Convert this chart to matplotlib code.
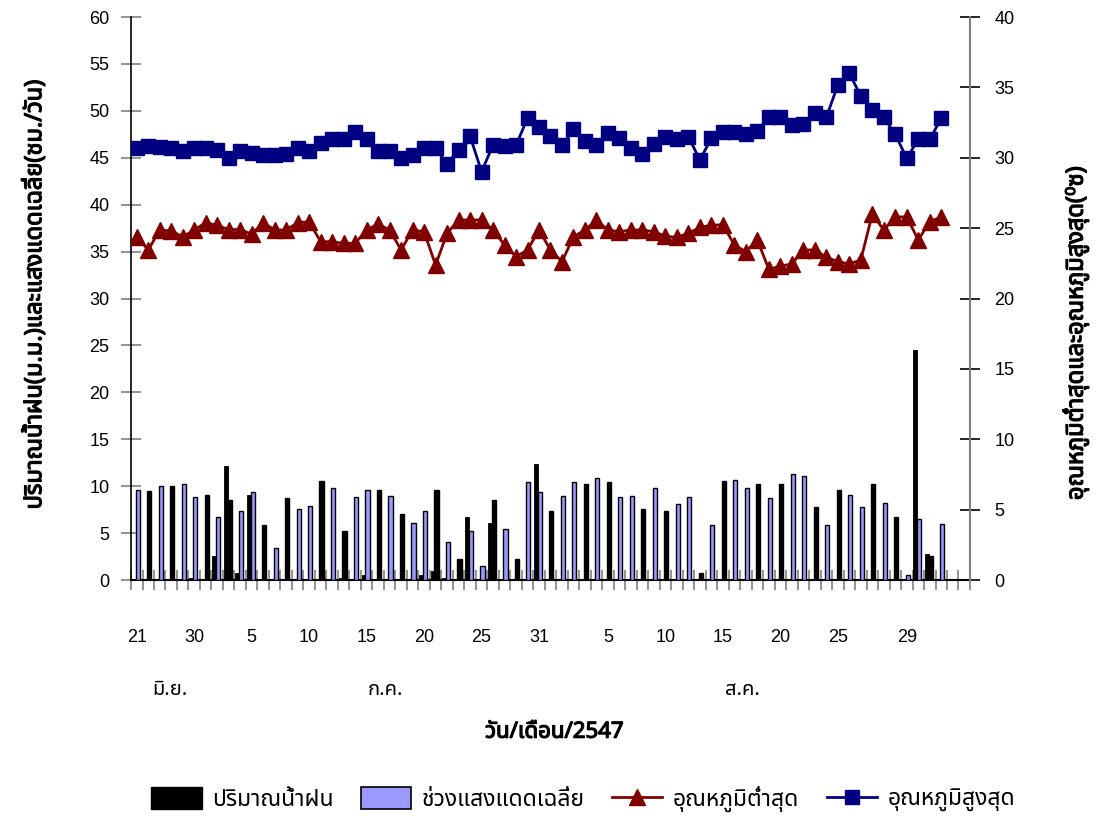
import numpy as np
import matplotlib
matplotlib.use("Agg")
import matplotlib.pyplot as plt
import matplotlib.patheffects as pe
from matplotlib import font_manager
from matplotlib.ft2font import FT2Font
from matplotlib.patches import Patch
from matplotlib.lines import Line2D
from matplotlib.transforms import blended_transform_factory

# ---------------- data ----------------
tick_positions = [0, 5, 10, 15, 20, 25, 30, 35, 41, 46, 51, 56, 61, 67]
tick_labels = ["21", "30", "5", "10", "15", "20", "25", "31",
               "5", "10", "15", "20", "25", "29"]
month_labels = ["มิ.ย.", "ก.ค.", "ส.ค."]
month_positions = [2.9, 21.6, 52.7]
n_categories = 73

rain = [0, 0, 0, 0, 0, 0.2, 0, 2.6, 12.2, 0.8,
        9.1, 0, 0, 0, 0, 0, 0, 0, 0.2, 0,
        0.5, 0, 0, 0, 0, 0.5, 1.0, 0.2, 0, 6.7,
        0, 6.1, 0, 0, 0, 12.4, 0, 0, 0, 0,
        0, 0, 0, 0, 0, 0, 0, 0, 0, 0,
        0, 0, 0, 0, 0, 0, 0, 0, 0, 0,
        0, 0, 0, 0, 0, 0, 0, 0, 24.5, 2.8,
        0]

sunshine = [9.6, 9.5, 10.0, 10.0, 10.2, 8.9, 9.1, 6.7, 8.5, 7.4,
            9.4, 5.9, 3.4, 8.7, 7.6, 7.9, 10.5, 9.8, 5.2, 8.9,
            9.6, 9.6, 9.0, 7.0, 6.1, 7.4, 9.6, 4.0, 2.2, 5.2,
            1.5, 8.5, 5.4, 2.2, 10.4, 9.4, 7.4, 9.0, 10.4, 10.2,
            10.9, 10.4, 8.9, 9.0, 7.6, 9.8, 7.4, 8.1, 8.9, 0.7,
            5.9, 10.6, 10.7, 9.8, 10.2, 8.7, 10.2, 11.3, 11.1, 7.8,
            5.9, 9.6, 9.1, 7.8, 10.2, 8.2, 6.7, 0.5, 6.5, 2.6,
            6.0]

tmax = [30.67, 30.83, 30.78, 30.67, 30.48, 30.67, 30.67, 30.55, 29.96, 30.5,
        30.36, 30.2, 30.2, 30.3, 30.67, 30.5, 31.07, 31.3, 31.3, 31.85,
        31.3, 30.5, 30.5, 29.96, 30.2, 30.67, 30.67, 29.56, 30.55, 31.55,
        29.01, 30.9, 30.83, 30.9, 32.8, 32.16, 31.55, 30.9, 32.02, 31.19,
        30.9, 31.78, 31.38, 30.67, 30.3, 31.0, 31.5, 31.3, 31.5, 29.84,
        31.4, 31.8, 31.85, 31.66, 31.9, 32.87, 32.87, 32.33, 32.4, 33.15,
        32.87, 35.17, 36.0, 34.39, 33.39, 32.87, 31.66, 29.96, 31.31, 31.31,
        32.8]

tmin = [24.39, 23.45, 24.87, 24.8, 24.39, 24.87, 25.39, 25.2, 24.9, 24.9,
        24.58, 25.39, 24.87, 24.87, 25.39, 25.45, 24.04, 24.04, 23.92, 23.92,
        24.87, 25.3, 24.87, 23.45, 24.87, 24.75, 22.38, 24.63, 25.58, 25.58,
        25.58, 24.87, 23.8, 22.97, 23.45, 24.87, 23.45, 22.62, 24.39, 24.87,
        25.55, 24.87, 24.75, 24.87, 24.87, 24.75, 24.42, 24.35, 24.63, 25.06,
        25.2, 25.25, 23.8, 23.33, 24.16, 22.07, 22.3, 22.46, 23.45, 23.45,
        22.93, 22.62, 22.46, 22.74, 26.0, 24.87, 25.8, 25.8, 24.16, 25.46,
        25.8]

# sunshine points whose bar is filled black
dark_sun_points = [1, 3, 6, 8, 11, 13, 16, 18, 21, 23, 26, 28, 31, 33, 36,
                   39, 41, 44, 46, 49, 51, 54, 56, 59, 61, 64, 66, 69]


# ---------------- fonts ----------------
def pick_thai_font():
    preferred = ["Noto Sans Thai", "Noto Sans Thai Looped", "Loma", "Garuda",
                 "Norasi", "Kinnari", "Sarabun", "Tahoma", "FreeSans"]
    available = {f.name for f in font_manager.fontManager.ttflist}
    for name in preferred:
        if name in available:
            return name
    for f in font_manager.fontManager.ttflist:
        try:
            cmap = FT2Font(f.fname).get_charmap()
        except Exception:
            continue
        if 0x0E01 in cmap and 0x0E21 in cmap:
            return f.name
    return "DejaVu Sans"


thai_font = pick_thai_font()
thai_family = [thai_font, "DejaVu Sans"]
num_family = ["Liberation Sans", "DejaVu Sans"]
plt.rcParams["font.family"] = num_family

# heavier strokes for the bold titles
bold_effect = [pe.withStroke(linewidth=0.9, foreground="black")]

# ---------------- figure ----------------
fig = plt.figure(figsize=(11.0, 8.19), dpi=100)
ax = fig.add_axes([0.1191, 0.2918, 0.7627, 0.6874])
ax2 = ax.twinx()

x = np.arange(len(rain))
sun_colors = ["black" if i in dark_sun_points else "#9999FF" for i in x]

ax.bar(x - 0.26, rain, width=0.36, color="black", edgecolor="black",
       linewidth=0.6, zorder=3)
ax.bar(x + 0.08, sunshine, width=0.36, color=sun_colors, edgecolor="black",
       linewidth=1.0, zorder=3)

ax.set_xlim(-0.5, n_categories - 0.5)
ax.set_ylim(0, 60)
ax.set_yticks(np.arange(0, 61, 5))
ax.tick_params(axis="y", direction="inout", length=15, width=1.2,
               color="#808080", labelsize=13, pad=8)

ax.set_xticks(tick_positions)
ax.set_xticklabels(tick_labels)
ax.set_xticks(np.arange(-0.5, n_categories, 1.0), minor=True)
ax.tick_params(axis="x", which="major", length=0, labelsize=13, pad=35)
ax.tick_params(axis="x", which="minor", direction="inout", length=15,
               width=1.2, color="#808080")

for side in ("top", "right"):
    ax.spines[side].set_visible(False)
ax.spines["left"].set_color("black")
ax.spines["bottom"].set_color("black")
ax.spines["left"].set_linewidth(1.2)
ax.spines["bottom"].set_linewidth(1.5)

ax2.plot(x, tmin, color="#800000", linewidth=2.0, marker="^",
         markersize=12, markeredgecolor="#800000", markerfacecolor="#800000",
         zorder=4)
ax2.plot(x, tmax, color="#000080", linewidth=2.0, marker="s",
         markersize=9.5, markeredgecolor="#000080", markerfacecolor="#000080",
         zorder=5)
ax2.set_ylim(0, 40)
ax2.set_yticks(np.arange(0, 41, 5))
ax2.tick_params(axis="y", direction="inout", length=15, width=1.2,
                color="black", labelsize=13, pad=10)
for side in ("top", "left", "bottom"):
    ax2.spines[side].set_visible(False)
ax2.spines["right"].set_color("#808080")
ax2.spines["right"].set_linewidth(1.5)

# month names under the day numbers
trans = blended_transform_factory(ax.transData, ax.transAxes)
for pos, name in zip(month_positions, month_labels):
    ax.text(pos, -0.195, name, transform=trans, ha="center", va="center",
            fontsize=14.5, family=thai_family)

fig.text(0.504, 0.106, "วัน/เดือน/2547", ha="center", va="center",
         fontsize=16, family=thai_family, path_effects=bold_effect)

fig.text(0.032, 0.64, "ปริมาณน้ำฝน(ม.ม.)และแสงแดดเฉลี่ย(ชม./วัน)",
         rotation=90, ha="center", va="center", fontsize=17,
         family=thai_family, path_effects=bold_effect)
fig.text(0.978, 0.593, "อุณหภูมิต่ำสุดและอุณหภูมิสูงสุด(⁰ซ)",
         rotation=90, ha="center", va="center", fontsize=17,
         family=thai_family, path_effects=bold_effect)

handles = [
    Patch(facecolor="black", edgecolor="black"),
    Patch(facecolor="#9999FF", edgecolor="black", linewidth=1.2),
    Line2D([], [], color="#800000", linewidth=2.0, marker="^", markersize=12),
    Line2D([], [], color="#000080", linewidth=2.0, marker="s", markersize=9.5),
]
labels = ["ปริมาณน้ำฝน", "ช่วงแสงแดดเฉลี่ย", "อุณหภูมิต่ำสุด", "อุณหภูมิสูงสุด"]
fig.legend(handles, labels, loc="center", bbox_to_anchor=(0.53, 0.024),
           ncol=4, frameon=False, prop={"family": thai_family, "size": 16.5},
           handlelength=2.2, handleheight=1.1, handletextpad=0.45,
           columnspacing=1.2)

fig.savefig("out.png", dpi=100)
